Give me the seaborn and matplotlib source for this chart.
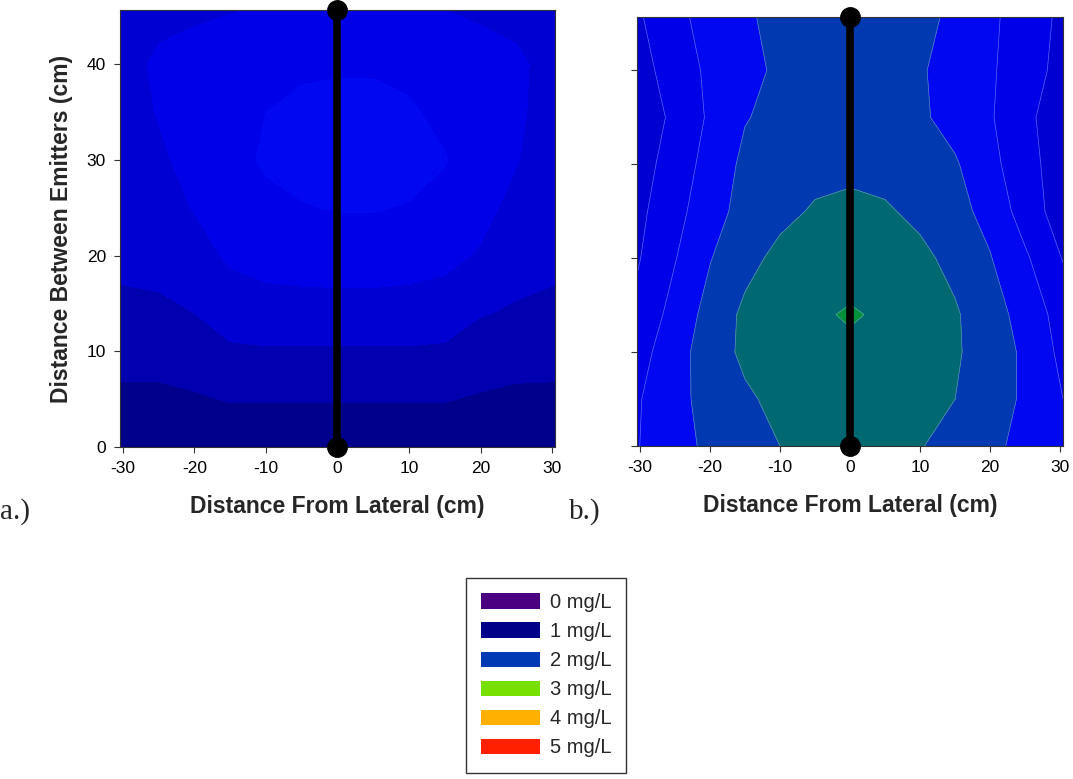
import numpy as np
import matplotlib
matplotlib.use("Agg")
import matplotlib.pyplot as plt
from matplotlib.patches import Patch
import seaborn as sns

sns.set_style("ticks")
plt.rcParams['font.family'] = ['Liberation Sans', 'DejaVu Sans']
plt.rcParams['axes.unicode_minus'] = False

# grid positions (cm)
x_cm = [-30.4, -25, -20, -15, -10, -5, 0, 5, 10, 15, 20, 25, 30.4]
y_cm = [0, 5, 10, 14, 20, 25, 30, 35, 40, 45.7]

# a.) concentration (mg/L), rows bottom -> top
conc_a = [
    [1.06, 1.06, 1.06, 1.06, 1.06, 1.06, 1.06, 1.06, 1.06, 1.06, 1.06, 1.06, 1.06],
    [1.16, 1.16, 1.18, 1.21, 1.21, 1.21, 1.21, 1.21, 1.21, 1.21, 1.18, 1.16, 1.16],
    [1.27, 1.27, 1.30, 1.37, 1.38, 1.38, 1.38, 1.38, 1.38, 1.37, 1.31, 1.28, 1.27],
    [1.36, 1.37, 1.40, 1.49, 1.52, 1.52, 1.52, 1.52, 1.52, 1.50, 1.41, 1.38, 1.36],
    [1.44, 1.45, 1.52, 1.63, 1.67, 1.69, 1.70, 1.70, 1.68, 1.65, 1.58, 1.47, 1.44],
    [1.47, 1.51, 1.61, 1.70, 1.76, 1.79, 1.81, 1.81, 1.79, 1.74, 1.66, 1.54, 1.47],
    [1.50, 1.57, 1.66, 1.75, 1.82, 1.86, 1.88, 1.88, 1.86, 1.81, 1.70, 1.61, 1.50],
    [1.52, 1.61, 1.68, 1.74, 1.80, 1.84, 1.85, 1.85, 1.82, 1.76, 1.70, 1.63, 1.52],
    [1.53, 1.63, 1.67, 1.71, 1.74, 1.77, 1.78, 1.78, 1.76, 1.72, 1.68, 1.63, 1.54],
    [1.52, 1.55, 1.57, 1.59, 1.62, 1.65, 1.66, 1.65, 1.63, 1.60, 1.57, 1.55, 1.52],
]

# b.) concentration (mg/L), rows bottom -> top
conc_b = [
    [1.79, 1.93, 2.04, 2.12, 2.20, 2.26, 2.30, 2.26, 2.21, 2.13, 2.04, 1.95, 1.81],
    [1.78, 1.94, 2.07, 2.17, 2.25, 2.30, 2.33, 2.30, 2.26, 2.20, 2.09, 1.97, 1.80],
    [1.72, 1.92, 2.10, 2.24, 2.30, 2.34, 2.36, 2.34, 2.30, 2.22, 2.12, 1.96, 1.75],
    [1.65, 1.87, 2.07, 2.24, 2.32, 2.37, 2.42, 2.37, 2.32, 2.22, 2.09, 1.92, 1.72],
    [1.58, 1.79, 1.99, 2.14, 2.25, 2.29, 2.31, 2.29, 2.24, 2.15, 2.01, 1.83, 1.59],
    [1.55, 1.73, 1.93, 2.06, 2.15, 2.22, 2.25, 2.22, 2.16, 2.06, 1.94, 1.71, 1.50],
    [1.52, 1.68, 1.88, 2.04, 2.10, 2.14, 2.15, 2.14, 2.08, 2.02, 1.86, 1.67, 1.50],
    [1.48, 1.64, 1.83, 1.99, 2.05, 2.08, 2.09, 2.07, 2.03, 1.93, 1.82, 1.64, 1.50],
    [1.52, 1.69, 1.84, 1.95, 2.03, 2.06, 2.07, 2.06, 2.02, 1.92, 1.83, 1.67, 1.55],
    [1.57, 1.75, 1.87, 1.98, 2.04, 2.07, 2.08, 2.07, 2.04, 1.97, 1.84, 1.70, 1.56],
]

levels = [1.0, 1.2, 1.4, 1.6, 1.8, 2.0, 2.2, 2.4, 2.6]
band_colors = ['#00008c', '#0000b0', '#0000d2', '#0000e8', '#0008f2',
               '#0039b0', '#006870', '#00903a']

legend_labels = ['0 mg/L', '1 mg/L', '2 mg/L', '3 mg/L', '4 mg/L', '5 mg/L']
legend_colors = ['#4a0080', '#000088', '#0039b3', '#77e000', '#ffb000', '#ff2000']

emitter_x = [0, 0]
emitter_y = [0, 45.7]

fig = plt.figure(figsize=(10.73, 7.79), dpi=100)
ax_a = fig.add_axes([0.1118, 0.4262, 0.4054, 0.561])
ax_b = fig.add_axes([0.5937, 0.4275, 0.397, 0.5507])

X, Y = np.meshgrid(x_cm, y_cm)
for ax, conc in [(ax_a, conc_a), (ax_b, conc_b)]:
    Z = np.array(conc)
    ax.contourf(X, Y, Z, levels=levels, colors=band_colors)
    if ax is ax_b:
        ax.contour(X, Y, Z, levels=levels[1:-1], colors='#9aa8ff',
                   linewidths=0.5, alpha=0.6)
    ax.plot(emitter_x, emitter_y, color='black', lw=5.5, marker='o', ms=14,
            clip_on=False, zorder=5)
    ax.set_xlim(-30.4, 30.4)
    ax.set_ylim(0, 45.7)
    ax.set_xticks([-30, -20, -10, 0, 10, 20, 30])
    ax.set_yticks([0, 10, 20, 30, 40])
    ax.tick_params(direction='out', length=4, width=0.8, colors='#333333',
                   labelcolor='black', labelsize=12.5, pad=6)
    for s in ax.spines.values():
        s.set_linewidth(0.8)
        s.set_color('#333333')
    ax.set_xlabel('Distance From Lateral (cm)', fontsize=16.5, fontweight='bold',
                  labelpad=14)

ax_a.set_ylabel('Distance Between Emitters (cm)', fontsize=16.5, fontweight='bold',
                labelpad=10)
ax_b.set_yticklabels([])

fig.text(0.0, 0.343, 'a.)', fontsize=21, family='Liberation Serif', va='center')
fig.text(0.530, 0.343, 'b.)', fontsize=21, family='Liberation Serif', va='center')

handles = [Patch(facecolor=c, edgecolor='none') for c in legend_colors]
leg = fig.legend(handles, legend_labels, loc='upper center',
                 bbox_to_anchor=(0.509, 0.258), fontsize=14.5, frameon=True,
                 fancybox=False, edgecolor='black', handlelength=2.9,
                 handleheight=0.8, labelspacing=0.5, borderpad=0.75,
                 handletextpad=0.5, borderaxespad=0)
leg.get_frame().set_linewidth(1.0)

fig.savefig('out.png', dpi=100)
